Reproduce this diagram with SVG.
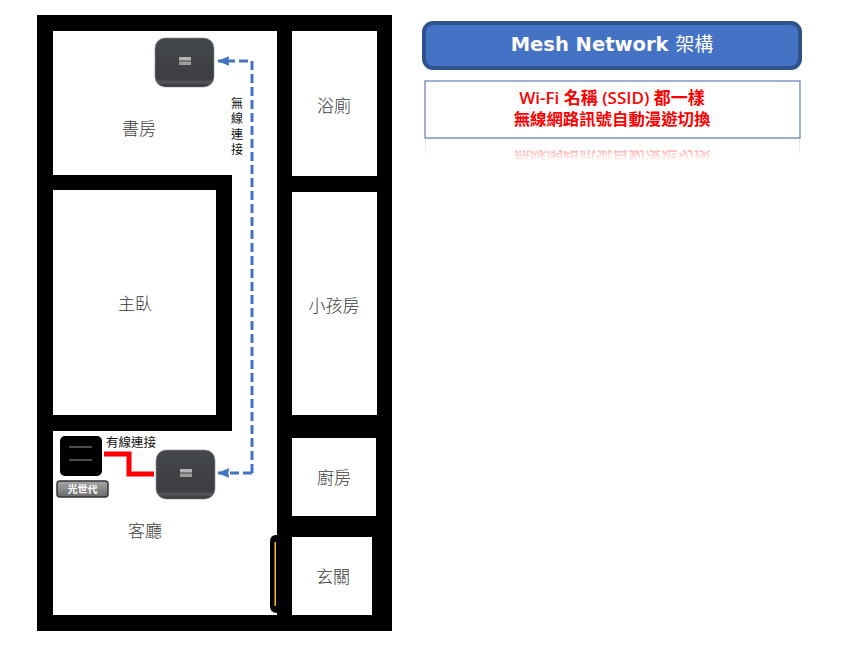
<svg xmlns="http://www.w3.org/2000/svg" width="850" height="646" viewBox="0 0 850 646">
<defs>
<style>
.t{font-family:"Noto Sans CJK TC","Liberation Sans",sans-serif;fill:#3a3a3a}
.room{font-size:17px;text-anchor:middle;font-weight:300}
.small{font-size:12.500px;fill:#111;text-anchor:middle}
.red{font-family:"Open Sans","Noto Sans CJK TC",sans-serif;font-size:16.400px;font-weight:600;fill:#f00;text-anchor:middle}
.rm{fill:#fff}
</style>
<linearGradient id="dev" x1="0" y1="0" x2="0" y2="1"><stop offset="0" stop-color="#44474b"/><stop offset="0.84" stop-color="#3c3e42"/><stop offset="0.9" stop-color="#55585c"/><stop offset="1" stop-color="#2e3032"/></linearGradient>
<linearGradient id="gray" x1="0" y1="0" x2="0" y2="1"><stop offset="0" stop-color="#a8a8a8"/><stop offset="1" stop-color="#6a6a6a"/></linearGradient>
<linearGradient id="fade" x1="0" y1="0" x2="0" y2="1"><stop offset="0" stop-color="#aebcd8"/><stop offset="1" stop-color="#fff"/></linearGradient>
<linearGradient id="mg" gradientUnits="userSpaceOnUse" x1="0" y1="139" x2="0" y2="161"><stop offset="0" stop-color="#fff" stop-opacity="0.6"/><stop offset="1" stop-color="#fff" stop-opacity="0"/></linearGradient>
<mask id="rf" maskUnits="userSpaceOnUse" x="420" y="139" width="385" height="24"><rect x="420" y="139" width="385" height="24" fill="url(#mg)"/></mask>
<marker id="arr" viewBox="0 0 10 8" refX="9.500" refY="4" markerWidth="4" markerHeight="3.200" orient="auto" markerUnits="strokeWidth"><path d="M0 0L10 4L0 8L1 4Z" fill="#4472c4"/></marker>
<g id="router"><rect x="0" y="0" width="59" height="49" rx="10" fill="url(#dev)" stroke="#8f8f8f" stroke-width="0.6"/><rect x="24" y="19" width="12" height="3.500" fill="#b4b4b4"/><rect x="24" y="23.500" width="12" height="3.500" fill="#9c9c9c"/></g>
</defs>
<rect width="850" height="646" fill="#fff"/>
<g id="plan">
<rect x="37" y="15" width="355" height="616" fill="#000"/>
<path class="rm" d="M53 31H277V615H53V431H232V175H53ZM53 190H216V415H53Z"/>
<rect class="rm" x="292" y="31" width="85" height="145"/>
<rect class="rm" x="292" y="192" width="85" height="223"/>
<rect class="rm" x="292" y="438" width="84" height="78"/>
<rect class="rm" x="292" y="537" width="80" height="78"/>
<path d="M277 535H276Q270 535 270 542V606Q270 613 277 613Z" fill="#000"/>
<rect x="274.500" y="542" width="1.500" height="64" fill="#ffc000"/>
</g>
<g id="room-study"><text class="t room" x="139" y="135">書房</text></g>
<g id="room-master"><text class="t room" x="135" y="310">主臥</text></g>
<g id="room-living"><text class="t room" x="145" y="537">客廳</text></g>
<g id="room-bath"><text class="t room" x="334" y="112">浴廁</text></g>
<g id="room-kid"><text class="t room" x="334" y="312">小孩房</text></g>
<g id="room-kitchen"><text class="t room" x="334" y="484">廚房</text></g>
<g id="room-entry"><text class="t room" x="333" y="583">玄關</text></g>
<g id="connectors">
<path d="M252 473V61H218" fill="none" stroke="#4472c4" stroke-width="3" stroke-dasharray="9 4" marker-end="url(#arr)"/>
<path d="M252 473H218" fill="none" stroke="#4472c4" stroke-width="3" stroke-dasharray="9 4" marker-end="url(#arr)"/>
<path d="M104 454H129V474H154" fill="none" stroke="#f00" stroke-width="5"/>
</g>
<g id="router-top"><use href="#router" x="155" y="38"/></g>
<g id="router-bottom"><use href="#router" x="156" y="450"/></g>
<g id="modem">
<rect x="60" y="436" width="42" height="40" rx="5" fill="#000"/>
<path d="M69 447H92M69 460H92" stroke="#999" stroke-width="1"/>
<rect x="57" y="481" width="51" height="16" rx="3" fill="url(#gray)" stroke="#333" stroke-width="1.500"/>
<text x="82.500" y="493" font-family="'Noto Sans CJK TC',sans-serif" font-size="10" font-weight="700" fill="#fff" text-anchor="middle">光世代</text>
</g>
<g id="label-wired"><text class="t small" x="131" y="447">有線連接</text></g>
<g id="label-wireless"><text class="t" x="237" y="97" font-size="12" style="fill:#111;writing-mode:vertical-rl;letter-spacing:3.600px">無線連接</text></g>
<g id="title">
<rect x="424" y="23" width="376" height="45" rx="9" fill="#4472c4" stroke="#2f528f" stroke-width="4"/>
<text x="612" y="51" font-family="'DejaVu Sans','Noto Sans CJK TC',sans-serif" font-size="19.500" font-weight="700" fill="#fff" text-anchor="middle">Mesh Network <tspan font-family="'Noto Sans CJK TC',sans-serif" font-weight="400" font-size="19">架構</tspan></text>
</g>
<g id="note">
<rect x="425" y="81" width="375" height="57" fill="#fff" stroke="#6d86b8" stroke-width="1.300"/>
<text class="red" x="612" y="104" font-size="17" style="font-size:17px">Wi-Fi 名稱 (SSID) 都一樣</text>
<text class="red" x="612" y="125">無線網路訊號自動漫遊切換</text>
</g>
<g id="reflection">
<rect x="425" y="139" width="375" height="18" fill="url(#fade)" opacity="0.5"/>
<rect x="426" y="139" width="373" height="18" fill="#fff"/>
<g mask="url(#rf)"><text class="red" x="612" y="-152" transform="scale(1,-1)">無線網路訊號自動漫遊切換</text></g>
</g>
</svg>
